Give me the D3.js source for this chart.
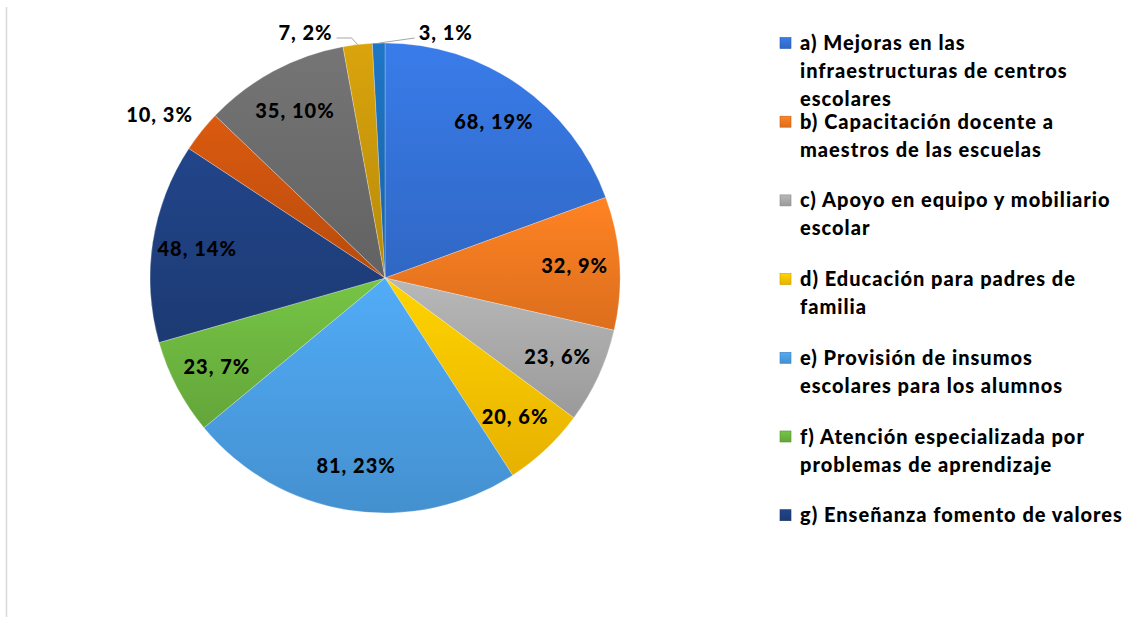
<!DOCTYPE html>
<html lang="es">
<head>
<meta charset="utf-8">
<script src="https://d3js.org/d3.v7.min.js"></script>
<style>
	body { margin: 0; background: #fff; }
	svg text { font-family: Lato, "Open Sans", sans-serif; font-weight: 900; fill: #000; letter-spacing: 1px; }
</style>
</head>
<body>
<svg width="1137" height="617"></svg>
<script>
// slice values, clockwise from 12 o'clock
var values = [68, 32, 23, 20, 81, 23, 48, 10, 35, 7, 3];
// percentages as printed on the chart
var percents = [19, 9, 6, 6, 23, 7, 14, 3, 10, 2, 1];
var colors = ["#3471d6", "#f07820", "#a8a8a8", "#fcc200", "#4a9de2", "#6cb43f",
              "#1f3f7e", "#c8520e", "#6b6b6b", "#c7960b", "#1b6cb5"];
var legendItems = [
	["a) Mejoras en las", "infraestructuras de centros", "escolares"],
	["b) Capacitación docente a", "maestros de las escuelas"],
	["c) Apoyo en equipo y mobiliario", "escolar"],
	["d) Educación para padres de", "familia"],
	["e) Provisión de insumos", "escolares para los alumnos"],
	["f) Atención especializada por", "problemas de aprendizaje"],
	["g) Enseñanza fomento de valores"]
];

var svg = d3.select("svg");
var cx = 385, cy = 278, r = 235;

// left border of the chart area
svg.append("line")
	.attr("x1", 6.5).attr("x2", 6.5).attr("y1", 7).attr("y2", 617)
	.attr("stroke", "#d9d9d9").attr("stroke-width", 1.5);

var defs = svg.append("defs");
colors.forEach(function(c, i) {
	var g = defs.append("linearGradient").attr("id", "grad" + i)
		.attr("x1", 0).attr("y1", 0).attr("x2", 0).attr("y2", 1);
	g.append("stop").attr("offset", "0%").attr("stop-color", d3.color(c).brighter(0.25));
	g.append("stop").attr("offset", "100%").attr("stop-color", d3.color(c).darker(0.25));
});

var pie = d3.pie().sort(null).value(function(d) { return d; });
var arcs = pie(values);
var arc = d3.arc().innerRadius(0).outerRadius(r);
var labelArc = d3.arc().innerRadius(190).outerRadius(190);
var edgeArc = d3.arc().innerRadius(r).outerRadius(r);

var g = svg.append("g").attr("transform", "translate(" + cx + "," + cy + ")");

g.selectAll("path.slice")
	.data(arcs)
	.enter().append("path")
	.attr("class", "slice")
	.attr("d", arc)
	.attr("fill", function(d, i) { return "url(#grad" + i + ")"; })
	.attr("stroke", "rgba(255,255,255,0.25)")
	.attr("stroke-width", 1);

function labelText(i) { return values[i] + ", " + percents[i] + "%"; }

// inside labels
g.selectAll("text.inlab")
	.data(arcs.filter(function(d) { return d.value >= 12; }))
	.enter().append("text")
	.attr("class", "inlab")
	.attr("transform", function(d) { return "translate(" + labelArc.centroid(d) + ")"; })
	.attr("text-anchor", "middle")
	.attr("dy", "0.35em")
	.style("font-size", "20px")
	.text(function(d) { return labelText(d.index); });

// outside labels for the small slices
var topY = -r - 10;
arcs.forEach(function(d) {
	if (d.value >= 12) return;
	var p = edgeArc.centroid(d);
	if (d.index === 7) {
		var outer = d3.arc().innerRadius(r + 26).outerRadius(r + 26).centroid(d);
		g.append("text").attr("x", outer[0] + 12).attr("y", outer[1])
			.attr("text-anchor", "end").attr("dy", "0.35em")
			.style("font-size", "20px").text(labelText(d.index));
	} else if (d.index === 9) {
		var tx = p[0] - 25;
		g.append("polyline")
			.attr("points", [[tx + 4, topY + 5], [p[0] - 6, topY + 5], p].join(" "))
			.attr("fill", "none").attr("stroke", "#a6a6a6").attr("stroke-width", 1);
		g.append("text").attr("x", tx).attr("y", topY)
			.attr("text-anchor", "end").attr("dy", "0.35em")
			.style("font-size", "20px").text(labelText(d.index));
	} else {
		var tx2 = p[0] + 40;
		g.append("polyline")
			.attr("points", [p, [tx2 - 4, topY + 5]].join(" "))
			.attr("fill", "none").attr("stroke", "#a6a6a6").attr("stroke-width", 1);
		g.append("text").attr("x", tx2).attr("y", topY)
			.attr("text-anchor", "start").attr("dy", "0.35em")
			.style("font-size", "20px").text(labelText(d.index));
	}
});

// legend
var legend = svg.append("g").attr("transform", "translate(780,0)");
var item = legend.selectAll("g.item")
	.data(legendItems)
	.enter().append("g")
	.attr("class", "item")
	.attr("transform", function(d, i) { return "translate(0," + (43 + i * 78.7) + ")"; });

item.append("rect")
	.attr("x", 0).attr("y", -5.5).attr("width", 11).attr("height", 11)
	.attr("fill", function(d, i) { return "url(#grad" + i + ")"; })
	.attr("stroke", function(d, i) { return d3.color(colors[i]).darker(0.6); })
	.attr("stroke-width", 0.6);

item.selectAll("text")
	.data(function(d) { return d; })
	.enter().append("text")
	.attr("x", 20)
	.attr("y", function(d, j) { return j * 28; })
	.attr("dy", "0.35em")
	.style("font-size", "20px")
	.text(function(d) { return d; });
</script>
</body>
</html>
